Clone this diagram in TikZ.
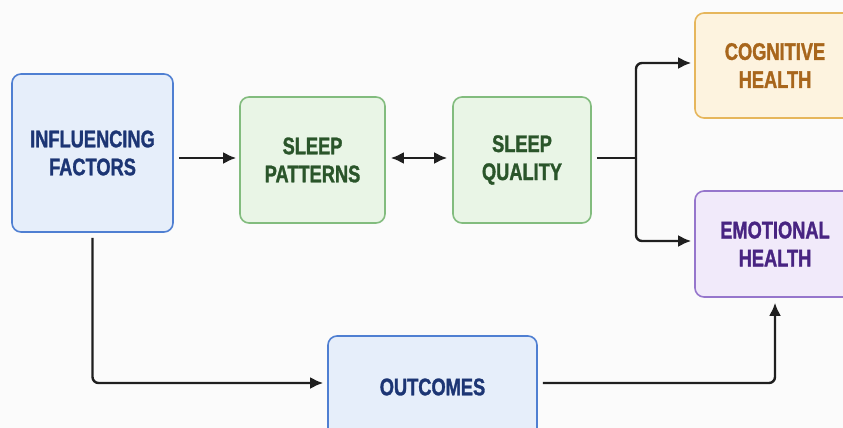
\documentclass[tikz,border=0pt]{standalone}
\usepackage{fontspec}
\setmainfont{Liberation Sans}[FakeStretch=0.76, BoldFeatures={FakeBold=1.3}]
\usepackage{tikz}
\usetikzlibrary{arrows.meta,positioning,calc}
\tikzset{>={Latex[length=13pt,width=12pt]}}

\definecolor{bluefill}{HTML}{E6EEFA}
\definecolor{blueline}{HTML}{4F7FD2}
\definecolor{bluetext}{HTML}{1C3574}
\definecolor{greenfill}{HTML}{E9F5E6}
\definecolor{greenline}{HTML}{82BC7E}
\definecolor{greentext}{HTML}{2A552A}
\definecolor{orangefill}{HTML}{FDF3DF}
\definecolor{orangeline}{HTML}{E6B65C}
\definecolor{orangetext}{HTML}{A8661C}
\definecolor{purplefill}{HTML}{F1EAFA}
\definecolor{purpleline}{HTML}{9676CC}
\definecolor{purpletext}{HTML}{482482}

\tikzset{
  box/.style={rounded corners=9pt, line width=1.6pt, align=center, inner sep=0pt,
    font=\fontsize{24}{28}\selectfont\bfseries},
  bluebox/.style={box, draw=blueline, fill=bluefill, text=bluetext},
  greenbox/.style={box, draw=greenline, fill=greenfill, text=greentext},
  orangebox/.style={box, draw=orangeline, fill=orangefill, text=orangetext},
  purplebox/.style={box, draw=purpleline, fill=purplefill, text=purpletext},
  arr/.style={->, line width=2.4pt, black!88, rounded corners=6pt}
}

\begin{document}
\begin{tikzpicture}[x=1pt,y=-1pt]
\useasboundingbox[fill=white!98.5!black] (0,0) rectangle (843,428);

% boxes
\node[bluebox, minimum width=161pt, minimum height=158pt] (infl) at (92.5,153) {INFLUENCING\\FACTORS};
\node[greenbox, minimum width=145pt, minimum height=126pt] (pat) at (312.5,160) {SLEEP\\PATTERNS};
\node[greenbox, minimum width=138pt, minimum height=126pt] (qual) at (522,160) {SLEEP\\QUALITY};
\node[orangebox, minimum width=160pt, minimum height=105pt] (cog) at (775,65.5) {COGNITIVE\\HEALTH};
\node[purplebox, minimum width=160pt, minimum height=106pt] (emo) at (775,244) {EMOTIONAL\\HEALTH};
\node[bluebox, minimum width=209pt, minimum height=102pt] (out) at (432.5,387) {OUTCOMES};

% connectors
\coordinate (split) at (636,158);
\draw[arr, shorten <=5pt, shorten >=3pt] (infl.east |- 0,158) -- (pat.west |- 0,158);
\draw[arr, <->, shorten <=5pt, shorten >=5pt] (pat.east |- 0,158) -- (qual.west |- 0,158);
\draw[line width=2.4pt, black!88, shorten <=5pt] (qual.east |- 0,158) -- (split);
\draw[arr, shorten >=3pt] (split) |- (cog.west |- 0,63);
\draw[arr, shorten >=3pt] (split) |- (emo.west |- 0,241);
\draw[arr, shorten <=5pt, shorten >=4pt] (infl.south) |- (out.west |- 0,383);
\draw[arr, shorten <=5pt, shorten >=5pt] (out.east |- 0,383) -| (emo.south);
\end{tikzpicture}
\end{document}
